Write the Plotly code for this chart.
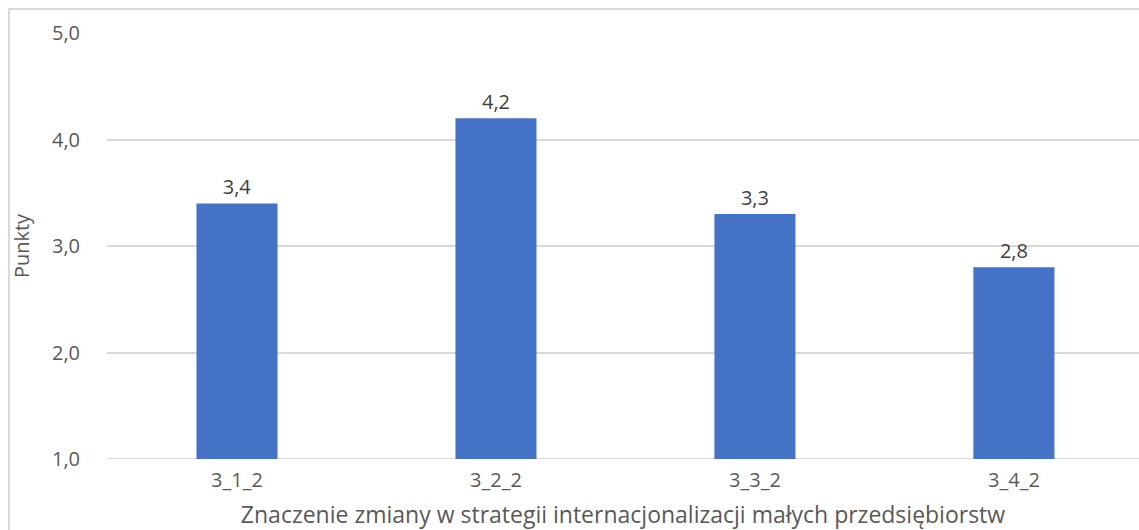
import plotly.graph_objects as go

# Data
categories = ["3_1_2", "3_2_2", "3_3_2", "3_4_2"]
values = [3.4, 4.2, 3.3, 2.8]
y_ticks = [1.0, 2.0, 3.0, 4.0, 5.0]

W, H = 1139, 530
L, R, T, B = 107, 0, 33, 71

FONT = "Open Sans"
TICK_COLOR = "#595959"
GRID = "#d9d9d9"


def pl(v):
    return f"{v:.1f}".replace(".", ",")


fig = go.Figure(
    go.Bar(
        x=categories,
        y=values,
        marker=dict(color="#4472C4", line=dict(width=0)),
        width=0.313,
        text=[pl(v) for v in values],
        textposition="outside",
        textfont=dict(family=FONT, size=20, color="#404040"),
        cliponaxis=False,
    )
)

fig.update_layout(
    width=W,
    height=H,
    margin=dict(l=L, r=R, t=T, b=B, pad=0),
    paper_bgcolor="white",
    plot_bgcolor="white",
    showlegend=False,
    font=dict(family=FONT, size=20, color=TICK_COLOR),
)

fig.update_xaxes(
    range=[-0.502, 3.483],
    showgrid=False,
    showline=False,
    ticks="outside",
    ticklen=3,
    tickcolor="rgba(0,0,0,0)",
    tickfont=dict(family=FONT, size=20, color=TICK_COLOR),
    title=dict(
        text="Znaczenie zmiany w strategii internacjonalizacji małych przedsiębiorstw",
        font=dict(family=FONT, size=23, color=TICK_COLOR),
        standoff=15,
    ),
)

fig.update_yaxes(
    range=[1, 5],
    tickvals=y_ticks,
    ticktext=[pl(v) for v in y_ticks],
    showgrid=True,
    gridcolor=GRID,
    gridwidth=2,
    zeroline=False,
    showline=False,
    ticks="outside",
    ticklen=22,
    tickcolor="rgba(0,0,0,0)",
    tickfont=dict(family=FONT, size=20, color=TICK_COLOR),
    title=dict(text="Punkty", font=dict(family=FONT, size=20, color=TICK_COLOR), standoff=16),
)

# Baseline at 1,0
fig.add_shape(type="line", xref="paper", yref="y", x0=0, x1=1, y0=1, y1=1,
              line=dict(color=GRID, width=2), layer="below")

# Chart-area frame: left and top edges visible, right/bottom run off the page
pw, ph = W - L - R, H - T - B
fig.add_shape(
    type="rect", xref="paper", yref="paper",
    x0=(9 - L) / pw, x1=1.5,
    y0=-0.5, y1=(ph + T - 9) / ph,
    line=dict(color=GRID, width=2), fillcolor="rgba(0,0,0,0)", layer="below",
)

fig.write_html("out.html")
